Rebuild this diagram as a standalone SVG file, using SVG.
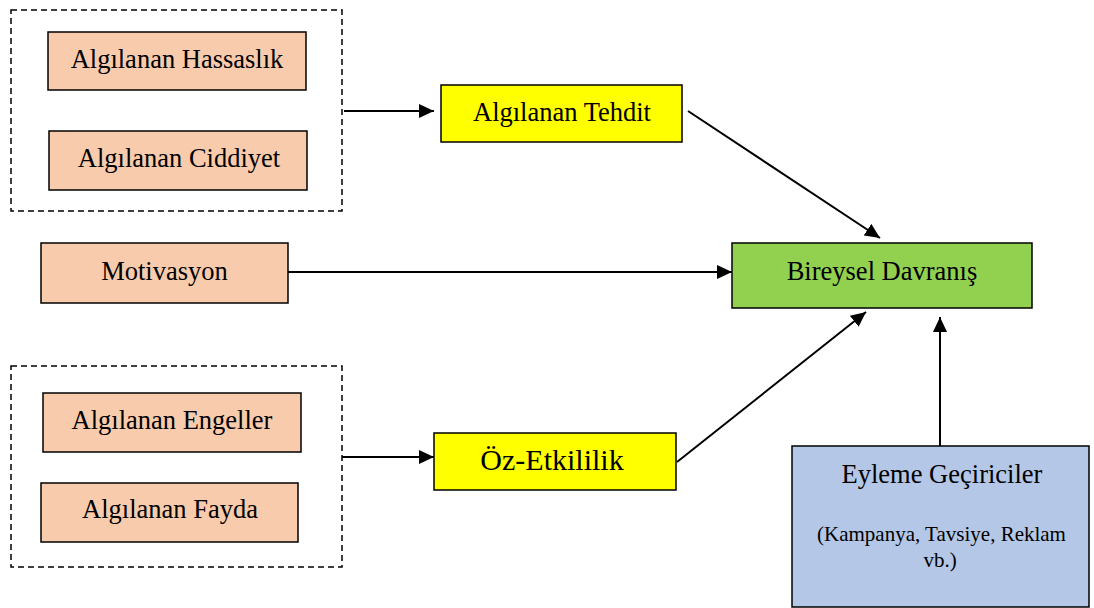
<svg xmlns="http://www.w3.org/2000/svg" width="1094" height="608" viewBox="0 0 1094 608">
<defs>
<marker id="ah" markerWidth="15" markerHeight="14" refX="15" refY="7" orient="auto" markerUnits="userSpaceOnUse">
<path d="M0,0 L15,7 L0,14 Z" fill="#000"/>
</marker>
<style>
.box{stroke:#000;stroke-width:1.5}
.peach{fill:#F8CBAD}
.yellow{fill:#FFFF00}
.green{fill:#92D050}
.blue{fill:#B4C7E7}
.dash{fill:none;stroke:#000;stroke-width:1.5;stroke-dasharray:6,4}
.t{font-size:26.5px;fill:#000;text-anchor:middle}
.s{font-size:21px;fill:#000;text-anchor:middle}
.c{stroke:#000;stroke-width:2;fill:none;marker-end:url(#ah)}
</style>
</defs>
<rect width="1094" height="608" fill="#fff"/>
<g font-family="'Liberation Serif', 'Times New Roman', 'DejaVu Serif', serif">
<g id="group1"><rect class="dash" x="11" y="10" width="331" height="201"/></g>
<g id="group2"><rect class="dash" x="11" y="366" width="331" height="201"/></g>
<g id="hassaslik"><rect class="box peach" x="48" y="32" width="258" height="58"/><text class="t" x="177" y="68">Algılanan Hassaslık</text></g>
<g id="ciddiyet"><rect class="box peach" x="49" y="131" width="258" height="59"/><text class="t" x="179" y="167">Algılanan Ciddiyet</text></g>
<g id="tehdit"><rect class="box yellow" x="441" y="85" width="241" height="57"/><text class="t" x="562" y="121">Algılanan Tehdit</text></g>
<g id="motivasyon"><rect class="box peach" x="41" y="243" width="247" height="60"/><text class="t" x="164.5" y="280">Motivasyon</text></g>
<g id="bireysel"><rect class="box green" x="732" y="243" width="300" height="65"/><text class="t" x="882" y="280">Bireysel Davranış</text></g>
<g id="engeller"><rect class="box peach" x="43" y="393" width="258" height="59"/><text class="t" x="172" y="429">Algılanan Engeller</text></g>
<g id="fayda"><rect class="box peach" x="41" y="483" width="257" height="59"/><text class="t" x="170" y="518">Algılanan Fayda</text></g>
<g id="ozetkililik"><rect class="box yellow" x="434" y="433" width="242" height="57"/><text class="t" x="552" y="470" style="font-size:30px">Öz-Etkililik</text></g>
<g id="eyleme"><rect class="box blue" x="792" y="446" width="297" height="161"/><text class="t" x="942" y="483">Eyleme Geçiriciler</text><text class="s" x="941.5" y="541">(Kampanya, Tavsiye, Reklam</text><text class="s" x="940" y="567">vb.)</text></g>
</g>
<g id="connectors">
<line class="c" x1="344" y1="111" x2="434" y2="111"/>
<line class="c" x1="688" y1="111" x2="880" y2="238"/>
<line class="c" x1="288" y1="272" x2="732" y2="272"/>
<line class="c" x1="342" y1="457" x2="434" y2="457"/>
<line class="c" x1="677" y1="462" x2="866" y2="312"/>
<line class="c" x1="940" y1="446" x2="940" y2="317"/>
</g>
</svg>
